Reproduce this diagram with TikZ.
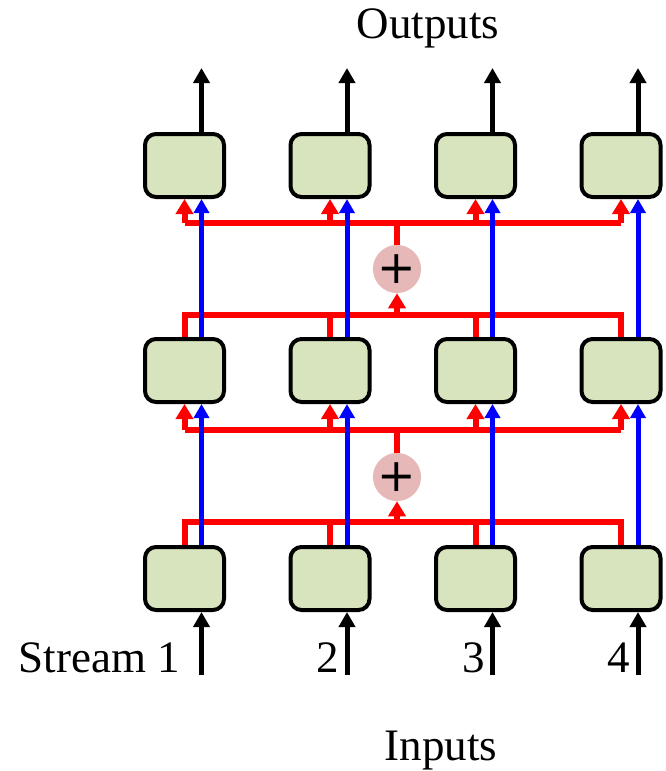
\documentclass[tikz,border=0pt]{standalone}
\usepackage{fontspec}
\setmainfont{Liberation Serif}
\newfontfamily\plusfont{DejaVu Sans}
\usetikzlibrary{arrows.meta,calc}
\definecolor{boxfill}{HTML}{D7E4BD}
\definecolor{sumfill}{HTML}{E6B9B8}
\begin{document}
\begin{tikzpicture}[x=1pt,y=-1pt,
  cell/.style={draw=black,line width=4pt,fill=boxfill,rounded corners=11pt,
    minimum width=79pt,minimum height=63pt,inner sep=0pt},
  sumnode/.style={circle,fill=sumfill,minimum size=44pt,inner sep=0pt,
    font=\plusfont\fontsize{46}{46}\selectfont},
  io/.style={line width=5pt,-{Triangle[width=16pt,length=15pt]}},
  bus/.style={red,line width=6pt},
  busarrow/.style={red,line width=6pt,-{Triangle[width=17pt,length=15pt]}},
  skip/.style={blue,line width=5pt,-{Triangle[width=15pt,length=14pt]}},
  lbl/.style={font=\fontsize{45}{50}\selectfont,inner sep=0pt}
]
\useasboundingbox (0,0) rectangle (666,771);

% grid of cells: row 1 = bottom, row 3 = top
\foreach \c/\x in {1/184.5,2/330,3/475.5,4/621} {
  \foreach \r/\y in {1/578.5,2/370.5,3/165.5}
    \node[cell] (b\r\c) at (\x,\y) {};
  \coordinate (o\c) at (\x+17,68);
  \coordinate (i\c) at (\x+17,675);
}

% summation nodes
\node[sumnode] (s1) at (397,477) {+};
\node[sumnode] (s2) at (397,269) {+};

% bus levels
\coordinate (lo1) at (0,522);
\coordinate (hi1) at (0,430);
\coordinate (lo2) at (0,315);
\coordinate (hi2) at (0,223);

% red mixing paths between consecutive rows
\foreach \r/\u/\s/\lo/\hi in {1/2/s1/lo1/hi1, 2/3/s2/lo2/hi2} {
  \draw[bus] (b\r1.north) -- (b\r1.north |- \lo) -- (b\r4.north |- \lo) -- (b\r4.north);
  \draw[bus] (b\r2.north) -- (b\r2.north |- \lo);
  \draw[bus] (b\r3.north) -- (b\r3.north |- \lo);
  \draw[busarrow] (\s.south |- \lo) -- (\s.south);
  \draw[bus] (\s.north) -- (\s.north |- \hi);
  \draw[bus] (b\u1.south |- \hi) -- (b\u4.south |- \hi);
  \foreach \c in {1,2,3,4}
    \draw[busarrow] (b\u\c.south |- \hi) -- (b\u\c.south);
}

% blue skip connections, stream inputs and outputs
\foreach \c in {1,2,3,4} {
  \draw[skip] ([xshift=17pt]b1\c.north) -- ([xshift=17pt]b2\c.south);
  \draw[skip] ([xshift=17pt]b2\c.north) -- ([xshift=17pt]b3\c.south);
  \draw[io] (i\c) -- ([xshift=17pt]b1\c.south);
  \draw[io] ([xshift=17pt]b3\c.north) -- (o\c);
}

% labels
\node[lbl,anchor=base] (outl) at (428,38) {Outputs};
\node[lbl,anchor=base] (inl) at (441,760) {Inputs};
\node[lbl,anchor=base east] (st1) at (180,672) {Stream 1};
\node[lbl,anchor=base east] (st2) at (339,672) {2};
\node[lbl,anchor=base east] (st3) at (485,672) {3};
\node[lbl,anchor=base east] (st4) at (630,672) {4};
\end{tikzpicture}
\end{document}
